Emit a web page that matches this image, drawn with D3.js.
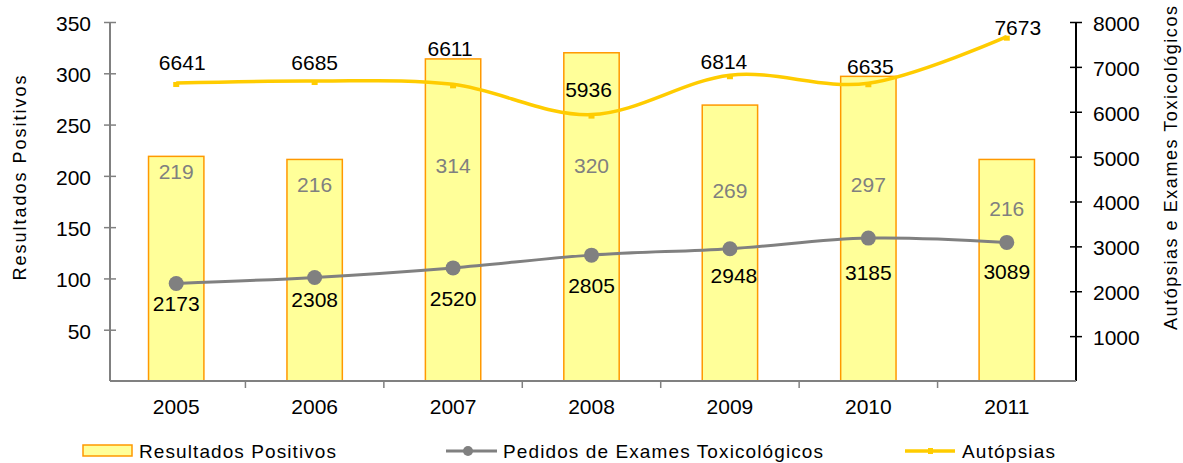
<!DOCTYPE html>
<html>
<head>
<meta charset="utf-8">
<script src="https://cdn.jsdelivr.net/npm/d3@7"></script>
<style>
  html, body { margin: 0; padding: 0; background: #fff; }
  svg { display: block; font-family: "Liberation Sans", Arial, sans-serif; }
</style>
</head>
<body>
<svg id="chart" width="1183" height="463"></svg>
<script>
// Years on the category axis
const years = ["2005", "2006", "2007", "2008", "2009", "2010", "2011"];
// Positive results (bars, left axis)
const positivos = [219, 216, 314, 320, 269, 297, 216];
// Toxicology exam requests (grey line, right axis)
const pedidos = [2173, 2308, 2520, 2805, 2948, 3185, 3089];
// Autopsies (yellow line, right axis)
const autopsias = [6641, 6685, 6611, 5936, 6814, 6635, 7673];
// Axis ticks
const leftTicks = [50, 100, 150, 200, 250, 300, 350];
const rightTicks = [1000, 2000, 3000, 4000, 5000, 6000, 7000, 8000];

const FONT = "Liberation Sans, Arial, sans-serif";
const svg = d3.select("#chart");
const plotTop = 22, plotBottom = 381;
const leftAxisX = 110, rightAxisX = 1076;

const x = d3.scaleBand().domain(years).range([107, 1076]);
const yL = d3.scaleLinear().domain([0, 350]).range([plotBottom, plotTop]);
const yR = d3.scaleLinear().domain([0, 8000]).range([plotBottom, plotTop]);
const cx = d => x(d) + x.bandwidth() / 2;

// Hand-placed label nudges (pixels) so labels sit clear of the lines
const barLabelDy = [23, 33, 114, 120, 93, 116, 57];
const autLabelNudge = [[6, -13], [0, -11], [-3, -28], [-3, -18], [-6, -6], [2, -9], [11, -2]];
const pedLabelNudge = [[0, 28], [0, 30], [0, 38], [0, 38], [4, 34], [0, 42], [0, 37]];

// Bars
const barW = x.bandwidth() * 0.4;
svg.append("g").selectAll("rect").data(years).join("rect")
  .attr("x", d => cx(d) - barW / 2)
  .attr("y", (d, i) => yL(positivos[i]))
  .attr("width", barW)
  .attr("height", (d, i) => yL(0) - yL(positivos[i]))
  .attr("fill", "#FFFF99")
  .attr("stroke", "#FF9900")
  .attr("stroke-width", 1.5);

svg.append("g").selectAll("text").data(years).join("text")
  .attr("x", d => cx(d))
  .attr("y", (d, i) => yL(positivos[i]) + barLabelDy[i])
  .attr("text-anchor", "middle")
  .attr("font-size", 21)
  .attr("fill", "#808080")
  .text((d, i) => positivos[i]);

// Left axis
const gL = svg.append("g").attr("transform", `translate(${leftAxisX},0)`)
  .call(d3.axisLeft(yL).tickValues(leftTicks).tickSizeOuter(0));
gL.selectAll(".tick line").attr("x1", -6).attr("x2", 6).attr("stroke", "#808080").attr("stroke-width", 1.5);
gL.select(".domain").attr("stroke", "#808080").attr("stroke-width", 2).attr("d", `M0,${plotTop}V${plotBottom}`);
gL.selectAll(".tick text").attr("font-size", 21).attr("fill", "#000").attr("x", -19).attr("dy", "0.4em")
  .attr("font-family", FONT);

// Right axis
const gR = svg.append("g").attr("transform", `translate(${rightAxisX},0)`)
  .call(d3.axisRight(yR).tickValues(rightTicks).tickFormat(d3.format("d")).tickSizeOuter(0));
gR.selectAll(".tick line").attr("x1", -6).attr("x2", 6).attr("stroke", "#000").attr("stroke-width", 1.5);
gR.select(".domain").attr("stroke", "#000").attr("stroke-width", 2).attr("d", `M0,${plotTop}V${plotBottom}`);
gR.selectAll(".tick text").attr("font-size", 21).attr("fill", "#000").attr("x", 17).attr("dy", "0.4em")
  .attr("font-family", FONT);

// Bottom axis
const gB = svg.append("g").attr("transform", `translate(0,${plotBottom})`)
  .call(d3.axisBottom(x).tickSize(0));
gB.select(".domain").attr("stroke", "#808080").attr("stroke-width", 2).attr("d", `M${leftAxisX},0H${rightAxisX}`);
gB.selectAll(".tick text").attr("font-size", 21).attr("fill", "#000").attr("y", 18)
  .attr("font-family", FONT);
svg.append("g").selectAll("line").data(d3.range(1, years.length)).join("line")
  .attr("x1", i => x(years[0]) + i * x.step()).attr("x2", i => x(years[0]) + i * x.step())
  .attr("y1", plotBottom).attr("y2", plotBottom + 7)
  .attr("stroke", "#808080").attr("stroke-width", 1.5);

// Axis titles
svg.append("text")
  .attr("transform", `translate(26,178) rotate(-90)`)
  .attr("text-anchor", "middle").attr("font-size", 18).attr("fill", "#000")
  .attr("textLength", 205).attr("lengthAdjust", "spacing")
  .text("Resultados Positivos");
svg.append("text")
  .attr("transform", `translate(1177,168) rotate(-90)`)
  .attr("text-anchor", "middle").attr("font-size", 18).attr("fill", "#000")
  .attr("textLength", 324).attr("lengthAdjust", "spacing")
  .text("Autópsias e Exames Toxicológicos");

// Smoothed lines
const smooth = d3.line().x((d, i) => cx(years[i])).y(d => yR(d)).curve(d3.curveCardinal.tension(0));

// Pedidos line
svg.append("path").datum(pedidos).attr("d", smooth)
  .attr("fill", "none").attr("stroke", "#808080").attr("stroke-width", 3);
svg.append("g").selectAll("circle").data(pedidos).join("circle")
  .attr("cx", (d, i) => cx(years[i])).attr("cy", d => yR(d)).attr("r", 7.5)
  .attr("fill", "#808080");
svg.append("g").selectAll("text").data(pedidos).join("text")
  .attr("x", (d, i) => cx(years[i]) + pedLabelNudge[i][0])
  .attr("y", (d, i) => yR(d) + pedLabelNudge[i][1])
  .attr("text-anchor", "middle").attr("font-size", 21).attr("fill", "#000")
  .text(d => d);

// Autópsias line
svg.append("path").datum(autopsias).attr("d", smooth)
  .attr("fill", "none").attr("stroke", "#FFCC00").attr("stroke-width", 3.5);
svg.append("g").selectAll("rect").data(autopsias).join("rect")
  .attr("x", (d, i) => cx(years[i]) - 3).attr("y", d => yR(d) - 1)
  .attr("width", 6).attr("height", 5)
  .attr("fill", "#FFCC00");
svg.append("g").selectAll("text").data(autopsias).join("text")
  .attr("x", (d, i) => cx(years[i]) + autLabelNudge[i][0])
  .attr("y", (d, i) => yR(d) + autLabelNudge[i][1])
  .attr("text-anchor", "middle").attr("font-size", 21).attr("fill", "#000")
  .text(d => d);

// Legend
const lg = svg.append("g").attr("font-size", 19).attr("fill", "#000");
lg.append("rect").attr("x", 83).attr("y", 445).attr("width", 49).attr("height", 11)
  .attr("fill", "#FFFF99").attr("stroke", "#FF9900").attr("stroke-width", 1.5);
lg.append("text").attr("x", 139).attr("y", 458)
  .attr("textLength", 197).attr("lengthAdjust", "spacing").text("Resultados Positivos");
lg.append("line").attr("x1", 446).attr("x2", 497).attr("y1", 451).attr("y2", 451)
  .attr("stroke", "#808080").attr("stroke-width", 3);
lg.append("circle").attr("cx", 468).attr("cy", 451).attr("r", 5).attr("fill", "#808080");
lg.append("text").attr("x", 503).attr("y", 458)
  .attr("textLength", 320).attr("lengthAdjust", "spacing").text("Pedidos de Exames Toxicológicos");
lg.append("line").attr("x1", 905).attr("x2", 955).attr("y1", 451).attr("y2", 451)
  .attr("stroke", "#FFCC00").attr("stroke-width", 3.5);
lg.append("rect").attr("x", 928).attr("y", 448).attr("width", 5).attr("height", 6).attr("fill", "#FFCC00");
lg.append("text").attr("x", 962).attr("y", 458)
  .attr("textLength", 93).attr("lengthAdjust", "spacing").text("Autópsias");
</script>
</body>
</html>
